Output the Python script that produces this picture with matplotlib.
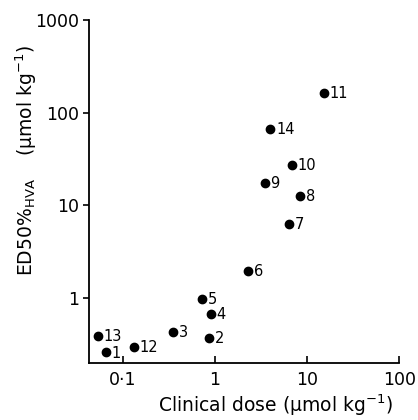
import matplotlib.pyplot as plt
from matplotlib.ticker import FixedLocator, NullLocator

# compound numbers and read-off values
labels = ['1', '2', '3', '4', '5', '6', '7', '8', '9', '10', '11', '12', '13', '14']
clinical_dose = [0.065, 0.86, 0.35, 0.91, 0.73, 2.3, 6.4, 8.4, 3.5, 6.9, 15.4, 0.132, 0.054, 4.0]
ed50_hva = [0.26, 0.37, 0.43, 0.67, 0.99, 1.97, 6.3, 12.7, 17.6, 27.2, 163, 0.30, 0.39, 66.7]

x_ticks = [0.1, 1, 10, 100]
x_ticklabels = ['0\u00b71', '1', '10', '100']
y_ticks = [1, 10, 100, 1000]
y_ticklabels = ['1', '10', '100', '1000']

plt.rcParams['font.family'] = ['DejaVu Sans']

fig = plt.figure(figsize=(4.18, 4.2), dpi=100)
ax = fig.add_axes([0.213, 0.136, 0.742, 0.816])

ax.plot(clinical_dose, ed50_hva, 'o', color='black', markersize=6, linestyle='none')
for lab, xv, yv in zip(labels, clinical_dose, ed50_hva):
    ax.annotate(lab, (xv, yv), xytext=(4, -0.5), textcoords='offset points',
                ha='left', va='center', fontsize=10.5)

ax.set_xscale('log')
ax.set_yscale('log')
ax.set_xlim(0.043, 100)
ax.set_ylim(0.2, 1000)

ax.xaxis.set_major_locator(FixedLocator(x_ticks))
ax.xaxis.set_minor_locator(NullLocator())
ax.set_xticklabels(x_ticklabels)
ax.yaxis.set_major_locator(FixedLocator(y_ticks))
ax.yaxis.set_minor_locator(NullLocator())
ax.set_yticklabels(y_ticklabels)

ax.spines['top'].set_visible(False)
ax.spines['right'].set_visible(False)
ax.spines['left'].set_linewidth(1.3)
ax.spines['bottom'].set_linewidth(1.3)
ax.tick_params(axis='x', direction='in', length=5, width=1.2, labelsize=12.5, pad=6)
ax.tick_params(axis='y', direction='out', length=4, width=1.2, labelsize=12.5, pad=3)

ax.set_xlabel('Clinical dose (\u03bcmol kg$^{-1}$)', fontsize=13.5)
ax.set_ylabel('ED50%$_{\\mathregular{HVA}}$    (\u03bcmol kg$^{-1}$)', fontsize=13.5)
ax.xaxis.set_label_coords(0.6, -0.085)
ax.yaxis.set_label_coords(-0.16, 0.59)

fig.savefig('out.png', dpi=100)
